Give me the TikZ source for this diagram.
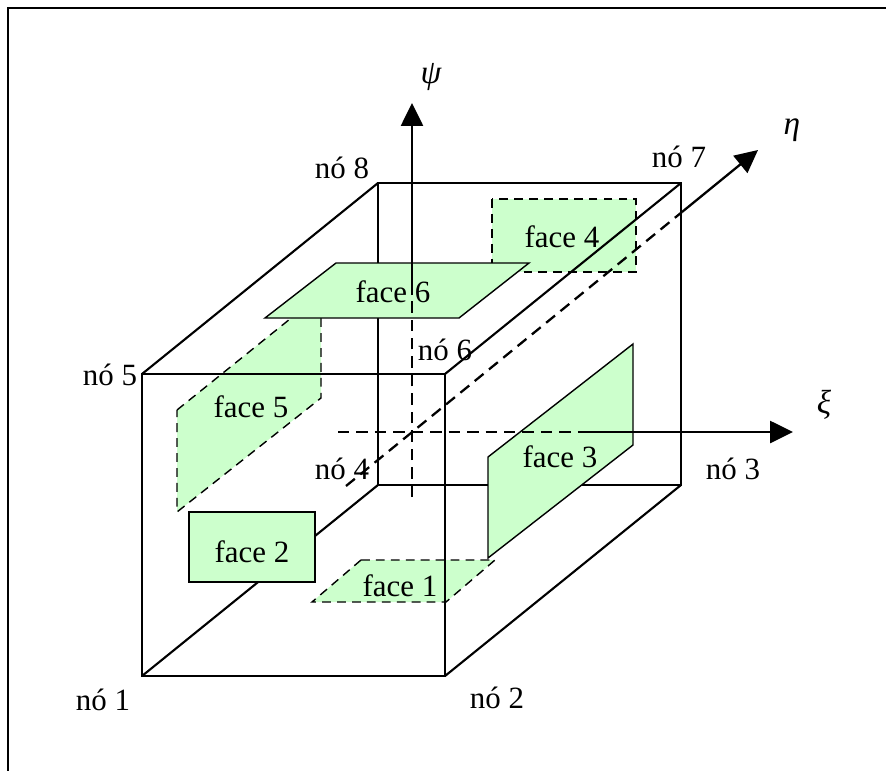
\documentclass[tikz,border=0pt]{standalone}
\usepackage{fontspec}
\setmainfont{Liberation Serif}
\usetikzlibrary{arrows.meta}
\definecolor{facecolor}{HTML}{CCFFCC}

\begin{document}
\begin{tikzpicture}[
    x=0.02cm,
    y=-0.02cm,
    line join=miter,
    label/.style={font=\fontsize{17.6}{20}\selectfont, inner sep=0pt},
    greeklabel/.style={font=\fontsize{19}{22}\selectfont\itshape, inner sep=0pt},
    cubeline/.style={black, line width=1.2pt},
    faceline/.style={fill=facecolor, draw=black, line width=0.8pt},
    hiddenface/.style={faceline, dashed, dash pattern=on 5pt off 3.5pt},
    axisline/.style={black, line width=1.3pt},
    axisdash/.style={black, line width=1.3pt, dash pattern=on 6.5pt off 4pt},
    axistip/.style={-{Triangle[length=13pt,width=12.5pt]}}
]

    % Page and frame
    \useasboundingbox (0,0) rectangle (886,771);
    \draw[black, line width=1.2pt] (8,771) -- (8,8) -- (886,8);

    % Faces behind the cube
    \draw[hiddenface] (492,199) rectangle (636,272); % face 4
    \draw[hiddenface] (177,410) -- (321,294) -- (321,398) -- (177,512) -- cycle; % face 5
    \draw[hiddenface] (361,560) -- (495,560) -- (446,602) -- (312,602) -- cycle; % face 1

    % Cube
    \draw[cubeline] (142,374) rectangle (445,676);
    \draw[cubeline] (378,183) rectangle (681,485);
    \draw[cubeline] (142,374) -- (378,183);
    \draw[cubeline] (445,374) -- (681,183);
    \draw[cubeline] (142,676) -- (378,485);
    \draw[cubeline] (445,676) -- (681,485);

    % Faces in front of the cube
    \draw[faceline] (336,263) -- (529,263) -- (459,318) -- (265,318) -- cycle; % face 6
    \draw[faceline] (488,457) -- (633,344) -- (633,445) -- (488,558) -- cycle; % face 3
    \draw[faceline] (189,512) rectangle (315,582); % face 2

    % Axes
    \draw[axisdash] (412,497) -- (412,295);
    \draw[axisline, axistip] (412,295) -- (412,103);
    \draw[axisdash] (338,432) -- (585,432);
    \draw[axisline, axistip] (585,432) -- (793,432);
    \draw[axisdash] (346,486) -- (682,212);
    \draw[axisline, axistip] (682,212) -- (758,150);

    % Axis names
    \node[greeklabel] (psi) at (431,77) {ψ};
    \node[greeklabel] (eta) at (792,130) {η};
    \node[greeklabel] (xi) at (824,405) {ξ};

    % Node names
    \node[label] (no1) at (103,700) {nó 1};
    \node[label] (no2) at (497,698) {nó 2};
    \node[label] (no3) at (733,469) {nó 3};
    \node[label] (no4) at (342,469) {nó 4};
    \node[label] (no5) at (110,375) {nó 5};
    \node[label] (no6) at (445,350) {nó 6};
    \node[label] (no7) at (679,157) {nó 7};
    \node[label] (no8) at (342,168) {nó 8};

    % Face names
    \node[label] (face1) at (400,586) {face 1};
    \node[label] (face2) at (252,552) {face 2};
    \node[label] (face3) at (560,457) {face 3};
    \node[label] (face4) at (562,237) {face 4};
    \node[label] (face5) at (251,407) {face 5};
    \node[label] (face6) at (393,292) {face 6};

\end{tikzpicture}
\end{document}
